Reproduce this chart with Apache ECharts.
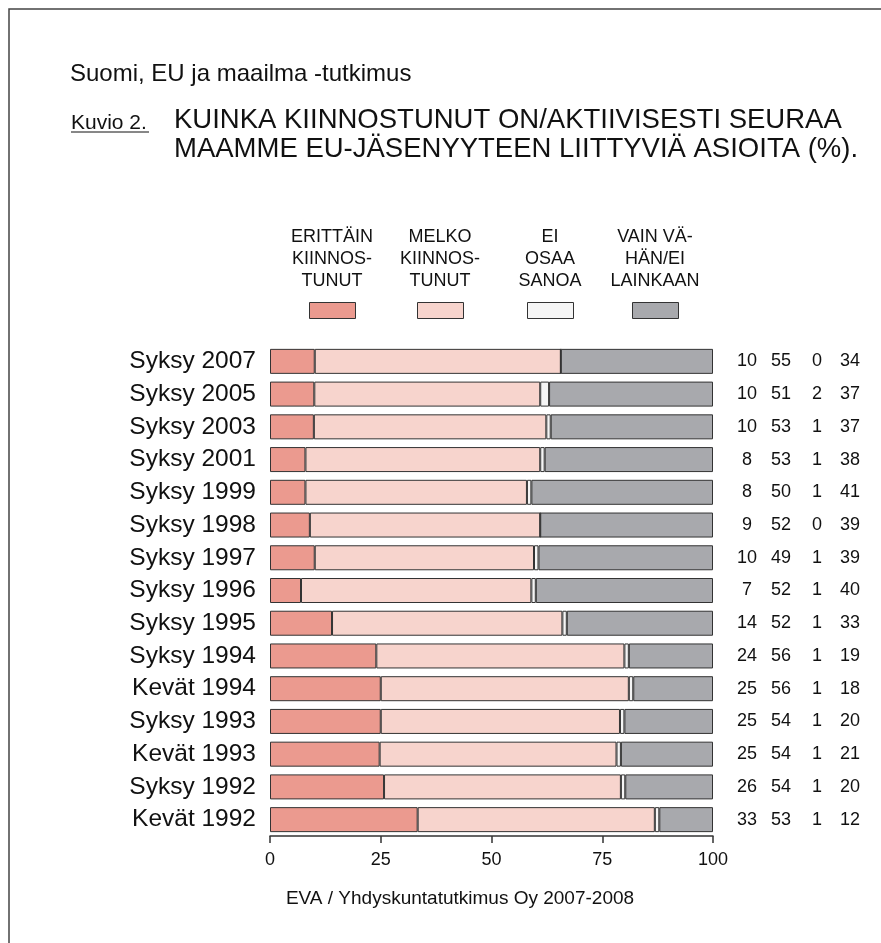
<!DOCTYPE html>
<html>
<head>
<meta charset="utf-8">
<script src="https://cdn.jsdelivr.net/npm/echarts@6/dist/echarts.min.js"></script>
<style>
  html, body { margin: 0; padding: 0; background: #fff; }
  #main { width: 881px; height: 943px; }
</style>
</head>
<body>
<div id="main"></div>
<script>
// kategoriat ylhäältä alas
const categories = ['Syksy 2007', 'Syksy 2005', 'Syksy 2003', 'Syksy 2001', 'Syksy 1999',
  'Syksy 1998', 'Syksy 1997', 'Syksy 1996', 'Syksy 1995', 'Syksy 1994', 'Kevät 1994',
  'Syksy 1993', 'Kevät 1993', 'Syksy 1992', 'Kevät 1992'];

const erittain = [10, 10, 10, 8, 8, 9, 10, 7, 14, 24, 25, 25, 25, 26, 33];
const melko    = [55, 51, 53, 53, 50, 52, 49, 52, 52, 56, 56, 54, 54, 54, 53];
const eiOsaa   = [0, 2, 1, 1, 1, 0, 1, 1, 1, 1, 1, 1, 1, 1, 1];
const vainVahan = [34, 37, 37, 38, 41, 39, 39, 40, 33, 19, 18, 20, 21, 20, 12];

const seriesNames = ['ERITTÄIN KIINNOSTUNUT', 'MELKO KIINNOSTUNUT', 'EI OSAA SANOA', 'VAIN VÄHÄN/EI LAINKAAN'];
const legendLines = ['ERITTÄIN\nKIINNOS-\nTUNUT', 'MELKO\nKIINNOS-\nTUNUT', 'EI\nOSAA\nSANOA', 'VAIN VÄ-\nHÄN/EI\nLAINKAAN'];
const colors = ['#EB9A8F', '#F7D4CD', '#F5F5F5', '#A8A9AD'];
const xTicks = [0, 25, 50, 75, 100];

const FONT = '"Liberation Sans", Arial, Helvetica, sans-serif';
const all = [erittain, melko, eiOsaa, vainVahan];
// palkit skaalataan 100 %:iin
const sums = categories.map((c, i) => all.reduce((s, a) => s + a[i], 0));

const legendLeft = [309, 417, 527, 632];
const legendCenter = [332, 440, 550, 655];

const chart = echarts.init(document.getElementById('main'), null, { renderer: 'canvas' });

const option = {
  animation: false,
  backgroundColor: '#fff',
  textStyle: { fontFamily: FONT },
  title: [
    { text: 'Suomi, EU ja maailma -tutkimus', left: 70, top: 62, padding: 0,
      textStyle: { fontSize: 24, fontWeight: 'normal', color: '#111', fontFamily: FONT } },
    { text: 'Kuvio 2.', left: 71, top: 113, padding: 0,
      textStyle: { fontSize: 21, fontWeight: 'normal', color: '#111', fontFamily: FONT } },
    { text: 'KUINKA KIINNOSTUNUT ON/AKTIIVISESTI SEURAA\nMAAMME EU-JÄSENYYTEEN LIITTYVIÄ ASIOITA (%).',
      left: 174, top: 106, padding: 0,
      textStyle: { fontSize: 27.5, lineHeight: 29, fontWeight: 'normal', color: '#111', fontFamily: FONT } }
  ],
  legend: seriesNames.map((n, i) => ({
    data: [n],
    left: legendLeft[i],
    top: 302,
    padding: 0,
    icon: 'rect',
    itemWidth: 46,
    itemHeight: 16,
    formatter: () => '',
    selectedMode: false,
    itemStyle: { borderColor: '#333', borderWidth: 1 }
  })),
  grid: { left: 270, right: 168, top: 345, bottom: 107, containLabel: false },
  xAxis: {
    type: 'value', min: 0, max: 100, interval: 25,
    axisLine: { show: true, lineStyle: { color: '#333', width: 1.5 } },
    axisTick: { show: true, length: 7, lineStyle: { color: '#333', width: 1.5 } },
    axisLabel: { fontSize: 18, color: '#111', margin: 15,
      formatter: v => xTicks.includes(v) ? String(v) : '' },
    splitLine: { show: false }
  },
  yAxis: [
    {
      type: 'category', data: categories, inverse: true,
      axisLine: { show: false }, axisTick: { show: false },
      axisLabel: { fontSize: 24.5, color: '#111', margin: 14 }
    },
    {
      type: 'category', data: categories, inverse: true, position: 'right',
      axisLine: { show: false }, axisTick: { show: false },
      axisLabel: {
        margin: 17, color: '#111', fontSize: 18,
        formatter: (v, i) => `{a|${erittain[i]}}{b|${melko[i]}}{c|${eiOsaa[i]}}{d|${vainVahan[i]}}`,
        rich: {
          a: { width: 34, align: 'center', fontSize: 18, color: '#111' },
          b: { width: 34, align: 'center', fontSize: 18, color: '#111' },
          c: { width: 38, align: 'center', fontSize: 18, color: '#111' },
          d: { width: 24, align: 'right', fontSize: 18, color: '#111' }
        }
      }
    }
  ],
  series: all.map((arr, k) => ({
    name: seriesNames[k],
    type: 'bar',
    stack: 'total',
    barWidth: 25,
    silent: true,
    itemStyle: { color: colors[k], borderColor: '#333', borderWidth: 1 },
    data: arr.map((v, i) => v / sums[i] * 100)
  })),
  graphic: [
    { type: 'polyline', silent: true,
      shape: { points: [[9, 943], [9, 9], [881, 9]] },
      style: { stroke: '#444', lineWidth: 1.5, fill: null } },
    { type: 'line', silent: true,
      shape: { x1: 71, y1: 132, x2: 149, y2: 132 },
      style: { stroke: '#111', lineWidth: 1 } }
  ].concat(legendLines.map((t, i) => ({
    type: 'text', silent: true,
    x: legendCenter[i], y: 226,
    style: { text: t, textAlign: 'center', font: '18px ' + FONT, lineHeight: 22, fill: '#111' }
  }))).concat([
    { type: 'text', silent: true, x: 460, y: 899,
      style: { text: 'EVA / Yhdyskuntatutkimus Oy 2007-2008', textAlign: 'center', textVerticalAlign: 'middle',
        font: '19px ' + FONT, fill: '#111' } }
  ])
};

chart.setOption(option);
</script>
</body>
</html>
